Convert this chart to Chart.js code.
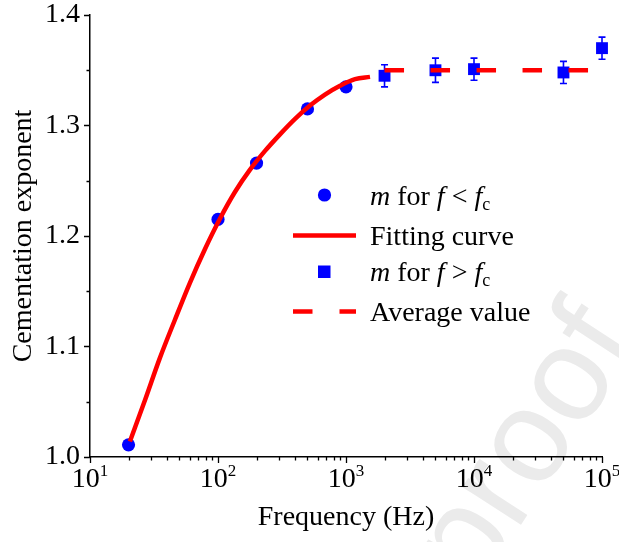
<!DOCTYPE html>
<html>
<head>
<meta charset="utf-8">
<script src="https://cdn.jsdelivr.net/npm/chart.js@4.4.0/dist/chart.umd.min.js"></script>
<style>
  html, body { margin: 0; padding: 0; background: #fff; }
  #wrap { width: 619px; height: 542px; }
</style>
</head>
<body>
<div id="wrap"><canvas id="myChart"></canvas></div>
<script>
// m for f < fc
const circleFreq = [20, 100, 200, 500, 1000];
const circleM = [1.011, 1.215, 1.266, 1.315, 1.335];
// m for f > fc, with error bars
const squareFreq = [2000, 5000, 10000, 50000, 100000];
const squareM = [1.345, 1.350, 1.351, 1.348, 1.370];
const squareErr = [0.010, 0.011, 0.010, 0.010, 0.010];
// fitting curve
const fitFreq = [20.5, 27, 35, 46, 60, 79, 104, 136, 178, 233, 305, 400, 523, 685, 898, 1176, 1540];
const fitM = [1.014, 1.052, 1.089, 1.124, 1.157, 1.188, 1.216, 1.240, 1.260, 1.277, 1.292, 1.306, 1.318, 1.328, 1.336, 1.342, 1.344];
// average value
const avgFreq = [2000, 100000];
const avgM = [1.35, 1.35];

const xDecades = [1, 2, 3, 4, 5];
const yLabels = [1.0, 1.1, 1.2, 1.3, 1.4];

const serif = 'Liberation Serif';
const FS = 28;

function pts(xs, ys) {
  return xs.map(function(x, i) { return {x: x, y: ys[i]}; });
}

// ticks, tick labels with superscripts, error bars, legend, watermark
const extras = {
  id: 'extras',
  beforeDraw(chart) {
    const ctx = chart.ctx;
    ctx.save();
    ctx.fillStyle = '#ebebeb';
    ctx.font = '132px "Liberation Sans"';
    ctx.translate(476, 594);
    ctx.rotate(-57 * Math.PI / 180);
    ctx.textAlign = 'right';
    ctx.fillText('Journal Pre-', 0, 0);
    ctx.textAlign = 'left';
    ctx.fillText('proof', 0, 0);
    ctx.restore();
  },
  beforeDatasetsDraw(chart) {
    const ctx = chart.ctx;
    const x = chart.scales.x, y = chart.scales.y;
    ctx.save();
    ctx.strokeStyle = '#0000ff';
    ctx.lineWidth = 1.6;
    squareFreq.forEach(function(f, i) {
      const px = x.getPixelForValue(f);
      const top = y.getPixelForValue(squareM[i] + squareErr[i]);
      const bot = y.getPixelForValue(squareM[i] - squareErr[i]);
      ctx.beginPath();
      ctx.moveTo(px, top); ctx.lineTo(px, bot);
      ctx.moveTo(px - 3.5, top); ctx.lineTo(px + 3.5, top);
      ctx.moveTo(px - 3.5, bot); ctx.lineTo(px + 3.5, bot);
      ctx.stroke();
    });
    ctx.restore();
  },
  afterDraw(chart) {
    const ctx = chart.ctx;
    const x = chart.scales.x, y = chart.scales.y;
    const a = chart.chartArea;
    ctx.save();
    ctx.strokeStyle = '#000';
    ctx.lineWidth = 1.3;
    ctx.beginPath();
    // x ticks, major and minor
    xDecades.forEach(function(e) {
      for (let k = 1; k <= 9; k++) {
        const v = k * Math.pow(10, e);
        if (v > 1e5) break;
        const px = Math.round(x.getPixelForValue(v)) + 0.5;
        const len = k === 1 ? 6 : 3.5;
        ctx.moveTo(px, a.bottom); ctx.lineTo(px, a.bottom + len);
      }
    });
    // y ticks, major and minor
    for (let v = 1.0; v <= 1.4001; v += 0.05) {
      const py = Math.round(y.getPixelForValue(v)) + 0.5;
      const major = Math.abs(v * 10 - Math.round(v * 10)) < 1e-6;
      const len = major ? 6 : 3.5;
      ctx.moveTo(a.left, py); ctx.lineTo(a.left - len, py);
    }
    ctx.stroke();

    // x tick labels 10^n
    ctx.fillStyle = '#000';
    ctx.textBaseline = 'alphabetic';
    xDecades.forEach(function(e) {
      const px = x.getPixelForValue(Math.pow(10, e));
      ctx.font = FS + 'px "' + serif + '"';
      const w1 = ctx.measureText('10').width;
      ctx.font = '17px "' + serif + '"';
      const w2 = ctx.measureText(String(e)).width;
      const x0 = px - (w1 + w2) / 2;
      ctx.font = FS + 'px "' + serif + '"';
      ctx.textAlign = 'left';
      ctx.fillText('10', x0, 487);
      ctx.font = '17px "' + serif + '"';
      ctx.fillText(String(e), x0 + w1, 476);
    });

    // legend
    const lx = 370;
    const rows = [
      [{t: 'm', i: 1}, {t: ' for '}, {t: 'f', i: 1}, {t: ' < '}, {t: 'f', i: 1}, {t: 'c', s: 1}],
      [{t: 'Fitting curve'}],
      [{t: 'm', i: 1}, {t: ' for '}, {t: 'f', i: 1}, {t: ' > '}, {t: 'f', i: 1}, {t: 'c', s: 1}],
      [{t: 'Average value'}]
    ];
    const rowY = [195, 235.5, 271.5, 311.5];
    rows.forEach(function(parts, r) {
      let cx = lx;
      parts.forEach(function(p) {
        const size = p.s ? 18 : FS;
        ctx.font = (p.i ? 'italic ' : '') + size + 'px "' + serif + '"';
        ctx.fillText(p.t, cx, rowY[r] + 9.5 + (p.s ? 5 : 0));
        cx += ctx.measureText(p.t).width;
      });
    });
    // legend symbols
    ctx.fillStyle = '#0000ff';
    ctx.beginPath();
    ctx.arc(324.5, rowY[0], 6.6, 0, Math.PI * 2);
    ctx.fill();
    ctx.fillRect(318, rowY[2] - 6, 12.5, 12.5);
    ctx.strokeStyle = '#ff0000';
    ctx.lineWidth = 4.5;
    ctx.beginPath();
    ctx.moveTo(293, rowY[1]); ctx.lineTo(356, rowY[1]);
    ctx.moveTo(293, rowY[3]); ctx.lineTo(312.5, rowY[3]);
    ctx.moveTo(339.5, rowY[3]); ctx.lineTo(356, rowY[3]);
    ctx.stroke();
    ctx.restore();
  }
};

const data = {
  datasets: [
    {
      label: 'Fitting curve',
      data: pts(fitFreq, fitM),
      showLine: true,
      borderColor: '#ff0000',
      borderWidth: 4.5,
      pointRadius: 0,
      cubicInterpolationMode: 'monotone'
    },
    {
      label: 'Average value',
      data: pts(avgFreq, avgM),
      showLine: true,
      borderColor: '#ff0000',
      borderWidth: 4.5,
      borderDash: [19.5, 26.5],
      pointRadius: 0
    },
    {
      label: 'm for f < fc',
      data: pts(circleFreq, circleM),
      pointStyle: 'circle',
      pointRadius: 6.6,
      backgroundColor: '#0000ff',
      borderColor: '#0000ff',
      borderWidth: 0
    },
    {
      label: 'm for f > fc',
      data: pts(squareFreq, squareM),
      pointStyle: 'rect',
      pointRadius: 8.4,
      backgroundColor: '#0000ff',
      borderColor: '#0000ff',
      borderWidth: 0
    }
  ]
};

const config = {
  type: 'scatter',
  data: data,
  options: {
    responsive: true,
    maintainAspectRatio: false,
    animation: false,
    clip: false,
    layout: {
      padding: {top: 15, right: 17, left: 0, bottom: 0}
    },
    plugins: {
      legend: false,
      tooltip: {enabled: false}
    },
    scales: {
      x: {
        type: 'logarithmic',
        min: 10,
        max: 100000,
        grid: {display: false, drawTicks: false},
        border: {display: true, color: '#000', width: 1.5},
        ticks: {display: false},
        title: {
          display: true,
          text: 'Frequency (Hz)',
          color: '#000',
          font: {family: serif, size: FS},
          padding: {bottom: 8}
        },
        afterFit: function(s) {
          s.height = 85;
          s.paddingLeft = 0; s.paddingRight = 0;
        }
      },
      y: {
        min: 1.0,
        max: 1.4,
        afterBuildTicks: function(s) {
          s.ticks = yLabels.map(function(v) { return {value: v}; });
        },
        grid: {display: false, drawTicks: false},
        border: {display: true, color: '#000', width: 1.5},
        ticks: {
          color: '#000',
          padding: 10,
          font: {family: serif, size: FS},
          callback: function(v) { return Number(v).toFixed(1); }
        },
        title: {
          display: true,
          text: 'Cementation exponent',
          color: '#000',
          font: {family: serif, size: FS},
          padding: {top: 7}
        },
        afterFit: function(s) {
          s.width = 90;
          s.paddingTop = 0; s.paddingBottom = 0;
        }
      }
    }
  },
  plugins: [extras]
};

const myChart = new Chart(
  document.getElementById('myChart'),
  config
);
</script>
</body>
</html>
